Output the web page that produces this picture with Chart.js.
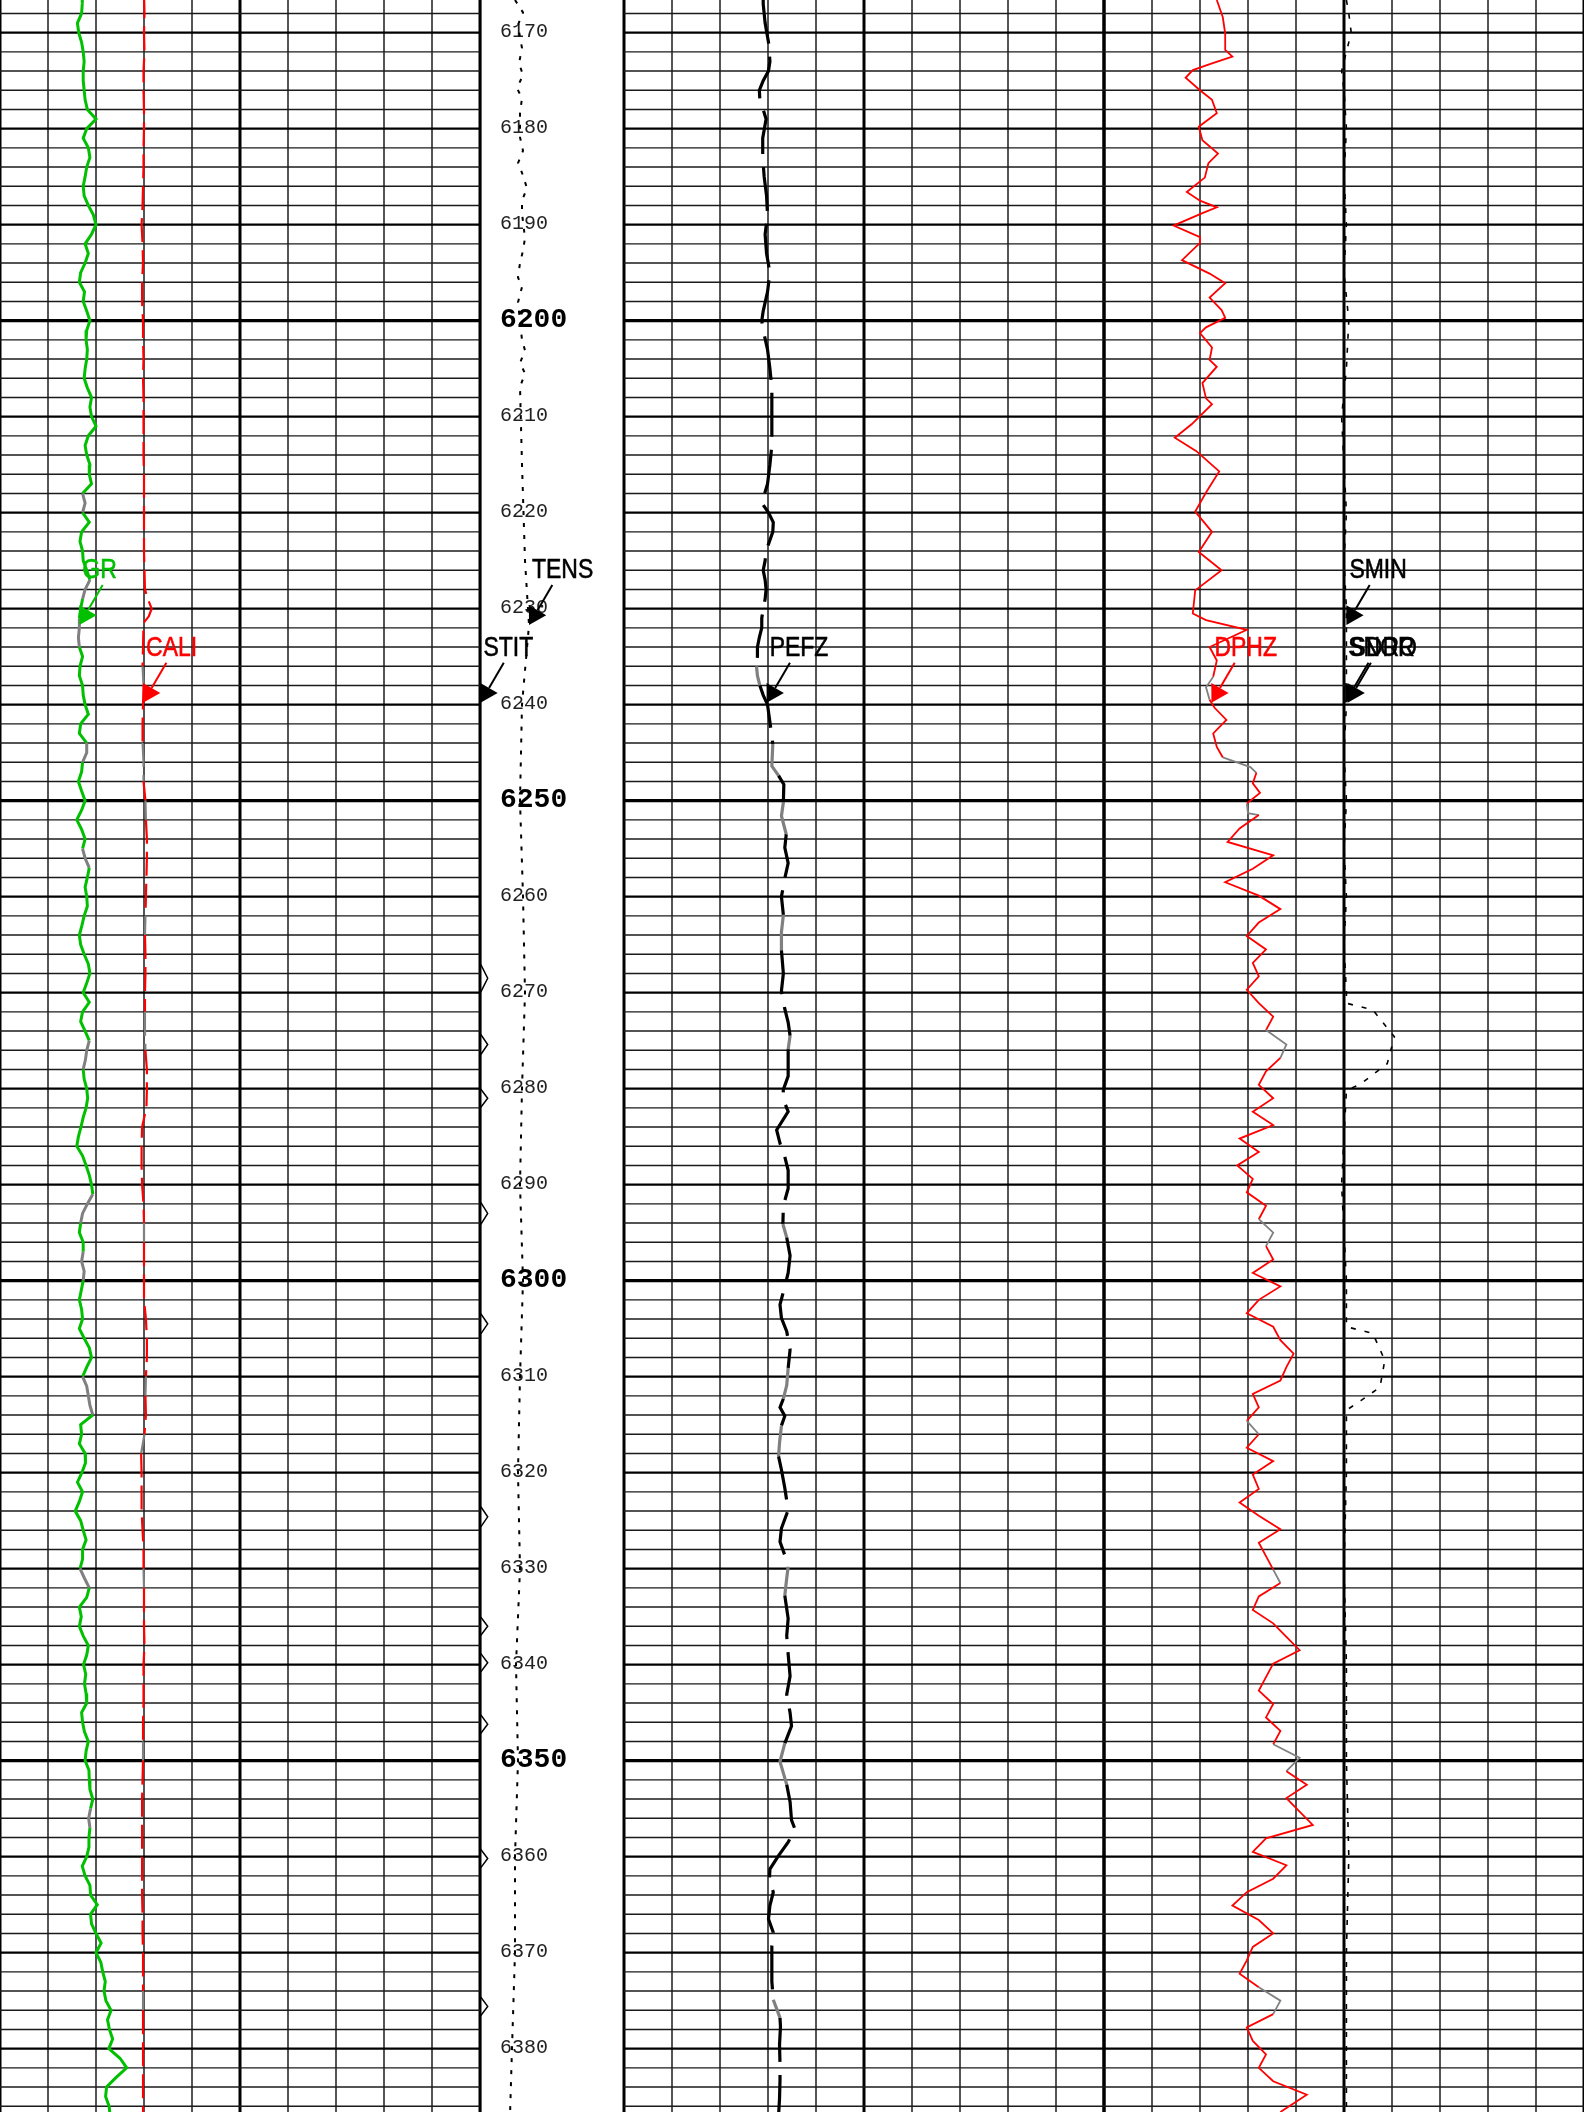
<!DOCTYPE html>
<html>
<head>
<meta charset="utf-8">
<title>Log 6167-6386 ft</title>
<script src="https://cdn.jsdelivr.net/npm/chart.js@4.4.1/dist/chart.umd.min.js"></script>
<style>
  html, body { margin: 0; padding: 0; background: #fff; }
  #wrap { position: relative; width: 1584px; height: 2112px; overflow: hidden; }
</style>
</head>
<body>
<div id="wrap"><canvas id="log" width="1584" height="2112"></canvas></div>
<script>
// ---- data (depth in ft) ----
const topDepth = 6166.6;
const bottomDepth = 6386.6;

// GR, API, one reading per foot from 6166 ft
const grVals = [
  25.8, 25.7, 25.5, 24.2, 24.6, 25.5, 26.0, 26.3, 26.0, 26.0, 26.3,
  26.6, 27.3, 30.0, 27.1, 26.0, 27.6, 28.1, 27.1, 26.6, 26.0,
  26.3, 27.6, 29.2, 30.0, 28.6, 26.6, 27.6, 26.6, 25.2, 24.8,
  26.4, 26.0, 27.1, 28.1, 27.1, 26.9, 27.3, 27.1, 26.6, 26.3,
  27.3, 28.6, 28.1, 28.6, 30.0, 27.6, 26.6, 27.1, 28.1, 27.9,
  28.6, 25.8, 26.6, 25.8, 27.9, 25.5, 25.0, 25.8, 26.0, 27.1,
  28.1, 26.6, 25.8, 25.2, 24.8, 24.8, 24.5, 24.8, 25.8, 25.0,
  24.8, 25.8, 26.0, 26.6, 27.6, 25.2, 24.8, 27.1, 27.1, 25.8,
  25.5, 24.5, 25.5, 26.6, 25.5, 24.0, 25.5, 26.6, 25.8, 26.6,
  27.9, 27.3, 26.6, 27.1, 27.3, 26.3, 25.6, 24.8, 25.2, 26.3,
  27.6, 28.1, 27.1, 26.0, 27.9, 25.8, 25.2, 26.6, 27.9, 27.1,
  26.7, 26.0, 26.3, 27.1, 27.4, 26.9, 26.0, 25.3, 24.5, 24.0,
  25.8, 26.9, 27.9, 28.6, 29.0, 27.3, 25.8, 25.2, 24.8, 26.0,
  26.0, 25.5, 26.3, 26.0, 25.4, 24.8, 25.5, 25.8, 24.8, 26.3,
  27.9, 28.6, 27.1, 25.8, 27.1, 27.6, 28.1, 29.0, 25.2, 25.5,
  24.8, 26.6, 26.7, 25.6, 24.2, 25.8, 24.8, 23.5, 25.2, 26.0,
  26.9, 25.8, 25.8, 25.0, 26.4, 27.9, 27.1, 24.8, 25.4, 24.8,
  26.0, 27.6, 27.1, 26.1, 26.8, 26.4, 26.9, 27.1, 25.5, 25.8,
  26.4, 27.6, 26.9, 26.6, 27.8, 27.9, 28.1, 29.0, 28.3, 27.7,
  28.1, 27.8, 27.8, 27.1, 25.7, 26.6, 28.1, 28.3, 30.4, 28.3,
  28.6, 30.0, 31.6, 30.0, 31.5, 32.1, 32.9, 32.5, 33.1, 34.7,
  33.6, 34.2, 35.2, 34.0, 37.5, 39.6, 36.3, 33.3, 33.0, 34.1, 34.4
];
const grDepth = grVals.map((v, i) => 6166 + i);
const grGray = [[6217.9, 6220.4], [6227, 6228.8], [6231.2, 6233.5], [6244.4, 6246.1], [6255, 6257.3],
  [6275.5, 6277.9], [6291, 6293.7], [6297, 6299.8], [6310, 6313.7], [6330, 6332.4], [6355.3, 6357.1]];

// CALI, in
const caliDepth = [6166, 6168, 6170, 6172, 6174, 6176, 6178, 6180, 6182, 6184, 6186, 6188, 6190, 6192, 6194,
  6196, 6198, 6200, 6202, 6204, 6206, 6208, 6210, 6212, 6214, 6216, 6218, 6220, 6222, 6224, 6226, 6228,
  6229, 6230, 6230.8, 6231.5, 6234, 6236, 6238, 6240, 6242, 6244, 6246, 6248, 6250, 6252, 6254, 6256,
  6258, 6260, 6262, 6264, 6266, 6268, 6270, 6272, 6274, 6276, 6278, 6280, 6282, 6284, 6286, 6288, 6290,
  6292, 6294, 6296, 6298, 6300, 6302, 6304, 6306, 6308, 6310, 6312, 6314, 6316, 6318, 6320, 6322, 6324,
  6326, 6328, 6330, 6332, 6334, 6336, 6338, 6340, 6342, 6344, 6346, 6348, 6350, 6352, 6354, 6356, 6358,
  6360, 6362, 6364, 6366, 6368, 6370, 6372, 6374, 6376, 6378, 6380, 6382, 6384, 6387];
const caliVals = [9.00, 9.01, 9.00, 9.01, 8.99, 8.99, 9.00, 9.00, 8.99, 8.99, 8.98, 8.97, 8.95, 8.97, 8.98,
  8.96, 8.96, 8.98, 8.98, 8.99, 8.98, 8.99, 8.99, 8.99, 8.99, 9.00, 9.00, 9.00, 9.00, 9.00, 9.01, 9.02,
  9.08, 9.16, 9.10, 8.99, 8.98, 8.97, 8.99, 8.98, 8.97, 8.97, 8.99, 8.99, 9.03, 9.04, 9.06, 9.06,
  9.05, 9.04, 9.03, 9.02, 9.03, 9.03, 9.02, 9.02, 9.02, 9.03, 9.06, 9.06, 9.05, 8.96, 8.95, 8.95, 8.96,
  8.99, 9.00, 9.00, 9.00, 9.00, 9.00, 9.04, 9.06, 9.06, 9.04, 9.03, 9.04, 9.01, 8.94, 8.95, 8.95, 8.95,
  8.97, 8.99, 8.99, 9.00, 9.00, 9.00, 9.01, 8.99, 8.99, 8.99, 8.98, 8.98, 8.98, 8.97, 8.96, 8.96, 8.96,
  8.96, 8.96, 8.96, 8.97, 8.97, 8.98, 8.98, 8.98, 8.98, 8.98, 8.98, 8.98, 8.98, 8.98];
const caliGray = [[6236.8, 6238.2], [6244.7, 6247], [6250, 6252.6], [6262.2, 6264.3], [6272.7, 6275.5],
  [6294.2, 6296.1], [6309.6, 6312], [6315.8, 6318.1], [6329.8, 6331.7], [6348.7, 6350.6], [6373.7, 6375.8]];

// STIT
const stitDepth = [6166, 6267, 6268.5, 6270, 6274.3, 6275.4, 6276.5, 6280, 6281, 6282, 6291.8, 6293, 6294.2,
  6303.4, 6304.5, 6305.6, 6323.5, 6324.6, 6325.7, 6335, 6336, 6337, 6338.8, 6339.8, 6340.8, 6345.2, 6346.2,
  6347.2, 6359.2, 6360.2, 6361.2, 6374.6, 6375.6, 6376.6, 6387];
const stitVals = [50.05, 50.05, 50.8, 50.05, 50.05, 50.8, 50.05, 50.05, 50.8, 50.05, 50.05, 50.8, 50.05,
  50.05, 50.8, 50.05, 50.05, 50.8, 50.05, 50.05, 50.8, 50.05, 50.05, 50.8, 50.05, 50.05, 50.8,
  50.05, 50.05, 50.8, 50.05, 50.05, 50.8, 50.05, 50.05];

// TENS, lbf
const tensDepth = [6166.6, 6167.9, 6169.2, 6170.5, 6171.6, 6173.2, 6174.4, 6175.8, 6176.8, 6178.4, 6180.9,
  6182.3, 6183.6, 6184.6, 6186.2, 6187.5, 6188.8, 6191.4, 6192.7, 6194.0, 6195.5, 6196.5, 6198.1, 6202.0,
  6203.1, 6204.4, 6205.5, 6206.9, 6215, 6225, 6231.7, 6240, 6250, 6260, 6270, 6280, 6290, 6300, 6310,
  6320, 6330, 6340, 6350, 6360, 6370, 6380, 6387];
const tensVals = [1458, 1792, 1583, 1667, 1750, 1625, 1792, 1542, 1750, 1667, 1667,
  1792, 1583, 1750, 1958, 1750, 1750, 1875, 1792, 1667, 1583, 1750, 1583, 1750,
  1875, 1667, 1875, 1667, 1750, 1875, 2042, 1750, 1667, 1792, 1875, 1750, 1667, 1792, 1667,
  1583, 1667, 1500, 1583, 1458, 1458, 1333, 1250];

// PEFZ, b/e
const pefDepth = [6166.6, 6167, 6169, 6171, 6173, 6174, 6175, 6176, 6177, 6178, 6179, 6181, 6183, 6185,
  6187, 6189, 6191, 6193, 6195, 6197, 6199, 6200, 6201, 6203, 6205, 6207, 6209, 6211, 6213, 6215, 6217,
  6219, 6220, 6221, 6222, 6223, 6224, 6225, 6226, 6227, 6228, 6229, 6230, 6231, 6232, 6233, 6234, 6235,
  6236, 6237, 6238, 6239, 6240, 6241.8, 6244.1, 6246.4, 6247.4, 6248.3, 6250.2, 6251.6, 6253.5, 6254.9,
  6256.5, 6258.1, 6260, 6261.9, 6263.7, 6265.6, 6268, 6269.8, 6271.7, 6273.1, 6274.5, 6275.9, 6277.3,
  6278.7, 6280.1, 6281, 6282.4, 6284.3, 6285.7, 6287.1, 6288.5, 6290.4, 6292.2, 6294.1, 6295.5, 6297.4,
  6299.2, 6300.6, 6302.5, 6303.9, 6305.3, 6307.2, 6309.1, 6310.9, 6312.3, 6313.2, 6314.1, 6315.1, 6316.9,
  6318.3, 6319.7, 6321.6, 6323.9, 6325.8, 6327.2, 6328.6, 6329.8, 6331, 6332.8, 6335.2, 6337, 6338.9,
  6341.2, 6343.1, 6345, 6346.4, 6348.2, 6350.1, 6352.5, 6354.3, 6356.2, 6357.1, 6358.5, 6359.9, 6361.3,
  6362.3, 6363.7, 6365.1, 6366.5, 6367.9, 6369.3, 6371.2, 6373, 6374.9, 6376.8, 6377.7, 6379.6, 6381.5,
  6383.3, 6385.2, 6387];
const pefVals = [2.90, 2.90, 2.94, 3.01, 3.04, 3.01, 2.90, 2.82, 2.83, 2.90, 2.96, 2.89, 2.89, 2.92,
  2.97, 2.99, 2.94, 2.97, 3.04, 2.99, 2.90, 2.87, 2.90, 2.99, 3.04, 3.08, 3.08, 3.08, 3.08, 3.04, 2.99,
  2.87, 3.01, 3.11, 3.10, 3.03, 2.96, 2.94, 2.90, 2.94, 2.96, 2.94, 2.90, 2.87, 2.87, 2.82, 2.78, 2.78,
  2.76, 2.78, 2.83, 2.90, 2.99, 3.04, 3.10, 3.08, 3.22, 3.33, 3.32, 3.28, 3.38, 3.35,
  3.42, 3.35, 3.28, 3.32, 3.28, 3.28, 3.32, 3.28, 3.35, 3.42, 3.46, 3.42, 3.42,
  3.42, 3.32, 3.31, 3.42, 3.18, 3.25, 3.35, 3.42, 3.42, 3.32, 3.31, 3.39, 3.46,
  3.42, 3.35, 3.25, 3.28, 3.39, 3.46, 3.42, 3.39, 3.32, 3.25, 3.35, 3.28, 3.24,
  3.22, 3.28, 3.35, 3.42, 3.28, 3.25, 3.35, 3.42, 3.39, 3.35, 3.42, 3.39, 3.42,
  3.46, 3.39, 3.46, 3.49, 3.35, 3.25, 3.39, 3.46, 3.49, 3.56, 3.42, 3.22, 3.04,
  3.03, 3.11, 3.04, 3.01, 3.11, 3.08, 3.08, 3.08, 3.11, 3.25, 3.26, 3.24, 3.25,
  3.25, 3.24, 3.22];
const pefGray = [[6236.3, 6238.2], [6244.6, 6246.9], [6250.6, 6253], [6262.3, 6264.7], [6274, 6275.9],
  [6294.6, 6296.4], [6309.1, 6311.9], [6316, 6318.3], [6330, 6331.9], [6348.7, 6351.3], [6374, 6376.1]];

// DPHZ, v/v
const dphzDepth = [6166.6, 6168.4, 6170.1, 6171.8, 6172.5, 6173.2, 6173.9, 6174.7, 6176.0, 6177.0, 6178.4,
  6179.8, 6181.2, 6182.6, 6183.6, 6185.1, 6186.6, 6187.5, 6188.2, 6188.8, 6190.1, 6191.3, 6191.9, 6193.7,
  6195.1, 6196.1, 6197.6, 6198.9, 6199.7, 6200.7, 6201.3, 6202.8, 6204.1, 6204.8, 6206.5, 6208.1, 6208.7,
  6210.8, 6212.2, 6213.6, 6215.7, 6217.9, 6219.9, 6222.0, 6224.1, 6226.0, 6228.1, 6230.5, 6231.2, 6232.2,
  6234.0, 6235.4, 6237.1, 6238.2, 6239.5, 6240.3, 6241.6, 6243.0, 6244.4, 6245.5, 6246.5, 6247.1, 6248.2,
  6249.2, 6250.3, 6251.3,
  6251.5, 6252.9, 6254.3, 6255.7, 6257.1, 6258.5, 6259.9, 6261.3, 6262.7, 6264.1, 6265.5, 6266.9, 6268.3,
  6269.7, 6271.1, 6272.5, 6273.9, 6275.4, 6276.8, 6278.2, 6279.6, 6281.0, 6282.4, 6283.8, 6285.2, 6286.6,
  6288.0, 6289.4, 6290.8, 6292.2, 6293.6, 6295.0, 6296.4, 6297.8, 6299.2, 6300.6, 6302.0, 6303.4, 6304.8,
  6306.2, 6307.6, 6309.0, 6310.4, 6311.8, 6313.2, 6314.6, 6316.0, 6317.4, 6318.8, 6320.2, 6321.7, 6323.1,
  6324.5, 6325.9, 6327.3, 6328.7, 6330.1, 6331.5, 6332.9, 6334.3, 6335.7, 6337.1, 6338.5, 6339.9, 6341.3,
  6342.7, 6344.1, 6345.5, 6346.9, 6348.3, 6349.7, 6351.1, 6352.5, 6353.9, 6355.3, 6356.7, 6358.1, 6359.5,
  6360.9, 6362.3, 6363.7, 6365.1, 6366.6, 6368.0, 6369.4, 6370.8, 6372.2, 6373.6, 6375.0, 6376.4, 6377.8,
  6379.2, 6380.6, 6382.0, 6383.4, 6384.8, 6386.6];
const dphzVals = [0.206, 0.201, 0.199, 0.199, 0.193, 0.210, 0.226, 0.232, 0.220, 0.210, 0.206,
  0.221, 0.218, 0.205, 0.213, 0.216, 0.231, 0.220, 0.206, 0.218, 0.242, 0.220, 0.220, 0.235,
  0.212, 0.199, 0.212, 0.202, 0.199, 0.215, 0.220, 0.210, 0.212, 0.206, 0.218, 0.215, 0.210,
  0.227, 0.241, 0.223, 0.204, 0.215, 0.224, 0.210, 0.221, 0.202, 0.224, 0.226, 0.215, 0.181,
  0.212, 0.206, 0.209, 0.215, 0.212, 0.208, 0.198, 0.209, 0.206, 0.201, 0.178, 0.173, 0.176,
  0.170, 0.181, 0.180,
  0.171, 0.187, 0.197, 0.159, 0.176, 0.199, 0.171, 0.153, 0.171, 0.181, 0.165, 0.176, 0.171,
  0.181, 0.171, 0.159, 0.165, 0.148, 0.153, 0.165, 0.171, 0.159, 0.176, 0.159, 0.187, 0.171,
  0.189, 0.176, 0.181, 0.165, 0.171, 0.159, 0.165, 0.159, 0.176, 0.153, 0.171, 0.181, 0.159,
  0.153, 0.142, 0.148, 0.153, 0.176, 0.171, 0.181, 0.171, 0.181, 0.159, 0.176, 0.171, 0.187,
  0.171, 0.153, 0.171, 0.165, 0.159, 0.153, 0.171, 0.176, 0.159, 0.148, 0.137, 0.159, 0.165,
  0.171, 0.159, 0.165, 0.153, 0.159, 0.137, 0.148, 0.131, 0.148, 0.137, 0.126, 0.165, 0.176,
  0.148, 0.159, 0.181, 0.193, 0.171, 0.159, 0.176, 0.181, 0.187, 0.171, 0.153, 0.159, 0.181,
  0.176, 0.165, 0.171, 0.159, 0.131, 0.153];
const dphzGray = [[6237.5, 6239.3], [6245.3, 6247.0], [6250.8, 6252.0], [6274.5, 6276.5], [6294.2, 6296],
  [6314, 6315.5], [6329.5, 6331], [6349, 6350.5], [6374.2, 6375.8]];

// SMIN, ohm-m
const sminDepth = [6166.6, 6168, 6170, 6172, 6174, 6176, 6180, 6185, 6190, 6195, 6200, 6205, 6210, 6215,
  6220, 6225, 6230, 6235, 6240, 6245, 6250, 6255, 6260, 6265, 6270, 6271.1, 6271.8, 6274.6, 6277.4,
  6279.5, 6280.2, 6285, 6290, 6295, 6300, 6304.8, 6305.5, 6308.3, 6311.1, 6312.5, 6313.5, 6320, 6330,
  6340, 6350, 6360, 6370, 6380, 6386.6];
const sminVals = [10.1, 10.2, 10.3, 10.1, 9.9, 10.0, 10.1, 10.0, 10.1, 10.0, 10.2, 10.1, 9.9, 10.0,
  10.1, 10.0, 10.1, 10.1, 10.1, 10.0, 10.1, 10.0, 10.1, 10.0, 10.1, 10.1, 11.2, 12.1, 11.8,
  10.7, 10.1, 10.0, 9.9, 10.0, 10.1, 10.1, 11.2, 11.7, 11.5, 10.7, 10.1, 10.1, 10.0,
  10.1, 10.1, 10.2, 10.1, 10.1, 10.1];

// depth annotation every 10 ft
const depthTicks = [6170, 6180, 6190, 6200, 6210, 6220, 6230, 6240, 6250, 6260, 6270, 6280, 6290,
  6300, 6310, 6320, 6330, 6340, 6350, 6360, 6370, 6380];

// ---- layout ----
const W = 1584, H = 2112;
const tracks = { t1: [0, 480], depth: [480, 624], t2: [624, 1104], t3: [1104, 1584] };
const GREEN = '#00c000', RED = '#ff0000', GRAY = '#808080';

// a hidden x scale that puts lo..hi across the given track
function trackAxis(track, lo, hi) {
  const [l, r] = tracks[track];
  const per = (hi - lo) / (r - l);
  const atLeft = lo - l * per, atRight = lo + (W - l) * per;
  return {
    type: 'linear', display: false,
    min: Math.min(atLeft, atRight), max: Math.max(atLeft, atRight),
    reverse: per < 0
  };
}

function pts(depths, vals) {
  return depths.map((d, i) => ({ x: vals[i], y: d }));
}

function valueAt(depths, vals, d) {
  for (let i = 1; i < depths.length; i++) {
    if (depths[i] >= d) {
      const t = (d - depths[i - 1]) / (depths[i] - depths[i - 1]);
      return vals[i - 1] + t * (vals[i] - vals[i - 1]);
    }
  }
  return vals[vals.length - 1];
}

function grayWhere(ranges) {
  return ctx => {
    const d = (ctx.p0.parsed.y + ctx.p1.parsed.y) / 2;
    return ranges.some(r => d >= r[0] && d <= r[1]) ? GRAY : undefined;
  };
}

function curve(label, axis, depths, vals, color, width, dash, grays) {
  return {
    label: label,
    xAxisID: axis,
    data: pts(depths, vals),
    borderColor: color,
    borderWidth: width,
    borderDash: dash,
    pointRadius: 0,
    tension: 0,
    fill: false,
    segment: grays ? { borderColor: grayWhere(grays) } : undefined
  };
}

const row1 = 6231.7, row2 = 6239.8;
const curveLabels = [
  { text: 'GR', color: GREEN, axis: 'xGR', depth: row1, value: valueAt(grDepth, grVals, row1) },
  { text: 'TENS', color: '#000', axis: 'xTENS', depth: row1, value: valueAt(tensDepth, tensVals, row1) },
  { text: 'SMIN', color: '#000', axis: 'xMIC', depth: row1, value: valueAt(sminDepth, sminVals, row1) },
  { text: 'CALI', color: RED, axis: 'xCALI', depth: row2, value: valueAt(caliDepth, caliVals, row2) },
  { text: 'STIT', color: '#000', axis: 'xSTIT', depth: row2, value: valueAt(stitDepth, stitVals, row2) },
  { text: 'PEFZ', color: '#000', axis: 'xPEFZ', depth: row2, value: valueAt(pefDepth, pefVals, row2) },
  { text: 'DPHZ', color: RED, axis: 'xDPHZ', depth: row2, value: valueAt(dphzDepth, dphzVals, row2) },
  { text: 'SNOR', color: '#000', axis: 'xMIC', depth: row2, value: 10.05 },
  { text: 'SDRO', color: '#000', axis: 'xMIC', depth: row2, value: 10.15 }
];

// ---- plugins ----
const gridPlugin = {
  id: 'logGrid',
  beforeDatasetsDraw(chart) {
    const ctx = chart.ctx, y = chart.scales.y;
    ctx.save();
    ctx.lineCap = 'butt';
    // vertical lines, 10 divisions per track
    for (const t of ['t1', 't2', 't3']) {
      const [l, r] = tracks[t];
      for (let i = 0; i <= 10; i++) {
        const x = l + (r - l) * i / 10;
        const heavy = i === 0 || i === 5 || i === 10;
        ctx.strokeStyle = heavy ? '#000' : '#555';
        ctx.lineWidth = heavy ? 3 : 2;
        ctx.beginPath();
        ctx.moveTo(x, 0);
        ctx.lineTo(x, H);
        ctx.stroke();
      }
    }
    // horizontal lines every 2 ft
    const first = Math.ceil(topDepth / 2) * 2;
    for (let d = first; d <= bottomDepth; d += 2) {
      const py = y.getPixelForValue(d);
      let w = 1.4, c = '#1a1a1a';
      if (d % 50 === 0) { w = 3.4; c = '#000'; }
      else if (d % 10 === 0) { w = 2.3; c = '#000'; }
      ctx.strokeStyle = c;
      ctx.lineWidth = w;
      for (const t of ['t1', 't2', 't3']) {
        ctx.beginPath();
        ctx.moveTo(tracks[t][0], py);
        ctx.lineTo(tracks[t][1], py);
        ctx.stroke();
      }
    }
    // depth numbers
    ctx.textBaseline = 'middle';
    ctx.textAlign = 'left';
    for (const d of depthTicks) {
      const py = y.getPixelForValue(d);
      if (d % 50 === 0) {
        ctx.font = 'bold 28px "Liberation Mono", "DejaVu Sans Mono", monospace';
        ctx.fillStyle = '#000';
      } else {
        ctx.font = '20px "Liberation Mono", "DejaVu Sans Mono", monospace';
        ctx.fillStyle = '#222';
      }
      ctx.fillText(String(d), 500, py - 1);
    }
    ctx.restore();
  }
};

const labelPlugin = {
  id: 'curveLabels',
  afterDatasetsDraw(chart) {
    const ctx = chart.ctx, y = chart.scales.y;
    ctx.save();
    ctx.font = '28px "Liberation Sans", Arial, sans-serif';
    ctx.textAlign = 'left';
    ctx.textBaseline = 'alphabetic';
    for (const lb of curveLabels) {
      const ax = chart.scales[lb.axis].getPixelForValue(lb.value);
      const ay = y.getPixelForValue(lb.depth);
      const sx = ax + 23.3, sy = ay - 40;
      const len = Math.hypot(ax - sx, ay - sy);
      const ux = (ax - sx) / len, uy = (ay - sy) / len;
      const bx = ax - ux * 17, by = ay - uy * 17;
      ctx.strokeStyle = lb.color;
      ctx.fillStyle = lb.color;
      ctx.lineWidth = 2;
      ctx.beginPath();
      ctx.moveTo(sx, sy);
      ctx.lineTo(bx, by);
      ctx.stroke();
      ctx.beginPath();
      ctx.moveTo(ax, ay);
      ctx.lineTo(bx - uy * 10, by + ux * 10);
      ctx.lineTo(bx + uy * 10, by - ux * 10);
      ctx.closePath();
      ctx.fill();
      // narrow face, like the print
      ctx.save();
      ctx.translate(ax + 3, ay - 47);
      ctx.scale(0.82, 1);
      ctx.lineWidth = 0.6;
      ctx.fillText(lb.text, 0, 0);
      ctx.strokeText(lb.text, 0, 0);
      ctx.restore();
    }
    ctx.restore();
  }
};

new Chart(document.getElementById('log'), {
  type: 'line',
  data: {
    datasets: [
      curve('GR', 'xGR', grDepth, grVals, GREEN, 3, [], grGray),
      curve('CALI', 'xCALI', caliDepth, caliVals, RED, 2.2, [24, 8], caliGray),
      curve('STIT', 'xSTIT', stitDepth, stitVals, '#000', 1.5, [], null),
      curve('TENS', 'xTENS', tensDepth, tensVals, '#000', 2, [4, 8], null),
      curve('PEFZ', 'xPEFZ', pefDepth, pefVals, '#000', 3.2, [44, 13], pefGray),
      curve('DPHZ', 'xDPHZ', dphzDepth, dphzVals, RED, 1.8, [], dphzGray),
      curve('SMIN', 'xMIC', sminDepth, sminVals, '#000', 1.6, [5, 9], null)
    ]
  },
  options: {
    responsive: false,
    animation: false,
    events: [],
    indexAxis: 'y',
    layout: { padding: 0 },
    plugins: { legend: { display: false }, tooltip: { enabled: false }, title: { display: false } },
    scales: {
      y: { type: 'linear', display: false, min: topDepth, max: bottomDepth, reverse: true },
      xGR: trackAxis('t1', 0, 150),
      xCALI: trackAxis('t1', 6, 16),
      xSTIT: trackAxis('t1', 0, 50),
      xTENS: trackAxis('depth', 0, 6000),
      xPEFZ: trackAxis('t2', 0, 10),
      xDPHZ: trackAxis('t3', 0.30, -0.10),
      xMIC: trackAxis('t3', 0, 20)
    }
  },
  plugins: [gridPlugin, labelPlugin]
});
</script>
</body>
</html>
